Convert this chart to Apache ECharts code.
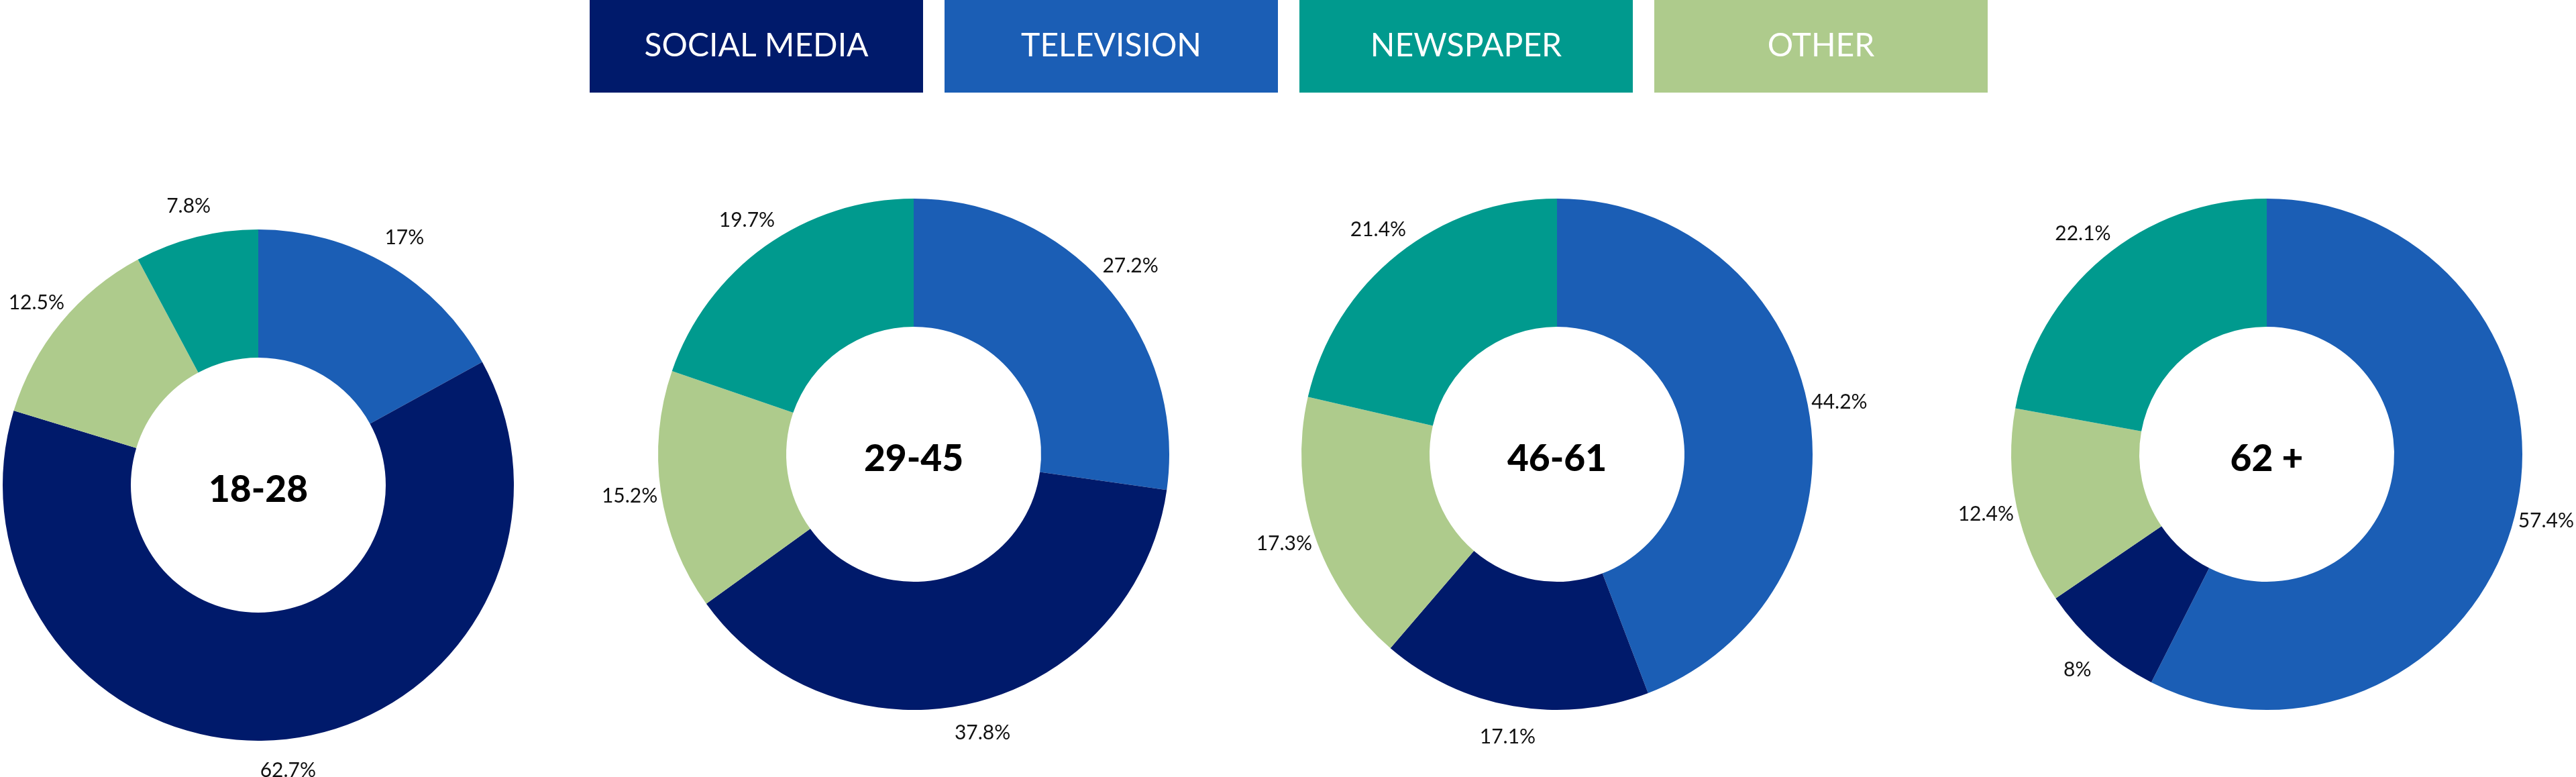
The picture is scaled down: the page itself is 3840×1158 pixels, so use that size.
<!DOCTYPE html>
<html>
<head>
<meta charset="UTF-8">
<title>Media by age group</title>
<script src="https://cdn.jsdelivr.net/npm/echarts@6/dist/echarts.min.js"></script>
<style>
    html, body { margin: 0; padding: 0; background: #fff; }
    #main { width: 3840px; height: 1158px; }
</style>
</head>
<body>
<div id="main"></div>
<script>
    // data (percent of each age group)
    var ageGroups = ['18-28', '29-45', '46-61', '62 +'];
    var sliceOrder = ['Television', 'Social Media', 'Other', 'Newspaper'];
    var legendOrder = ['Social Media', 'Television', 'Newspaper', 'Other'];
    var television = [17, 27.2, 44.2, 57.4];
    var socialMedia = [62.7, 37.8, 17.1, 8];
    var other = [12.5, 15.2, 17.3, 12.4];
    var newspaper = [7.8, 19.7, 21.4, 22.1];

    var colors = {
        'Social Media': '#001a6b',
        'Television': '#1b5eb5',
        'Newspaper': '#009a8e',
        'Other': '#aecb8c'
    };
    var values = {
        'Television': television,
        'Social Media': socialMedia,
        'Other': other,
        'Newspaper': newspaper
    };

    // donut centres in px
    var centers = [[385, 723], [1362, 677], [2321, 677], [3379, 677]];

    var myChart = echarts.init(document.getElementById('main'));

    var rich = {};
    legendOrder.forEach(function (name, i) {
        rich['s' + i] = {
            width: 497,
            height: 138,
            lineHeight: 138,
            align: 'center',
            verticalAlign: 'middle',
            backgroundColor: colors[name],
            color: '#fff',
            fontSize: 48,
            fontFamily: 'Lato'
        };
    });

    var series = [];
    var titles = [];
    ageGroups.forEach(function (group, g) {
        var data = sliceOrder.map(function (name) {
            return { name: name, value: values[name][g], itemStyle: { color: colors[name] } };
        });
        // the ring
        series.push({
            type: 'pie',
            name: group,
            center: centers[g],
            radius: [190, 381],
            startAngle: 90,
            clockwise: true,
            silent: true,
            label: { show: false },
            labelLine: { show: false },
            emphasis: { disabled: true },
            data: data
        });
        // invisible band just outside the ring, carries the % labels
        series.push({
            type: 'pie',
            name: group + ' labels',
            center: centers[g],
            radius: [381, 469],
            startAngle: 90,
            clockwise: true,
            silent: true,
            itemStyle: { color: 'transparent' },
            label: {
                show: true,
                position: 'inside',
                formatter: '{c}%',
                color: '#111',
                fontFamily: 'Lato',
                fontWeight: 'normal',
                fontSize: 30
            },
            labelLine: { show: false },
            emphasis: { disabled: true },
            data: data.map(function (d) { return { name: d.name, value: d.value }; })
        });
        titles.push({
            text: group,
            left: centers[g][0],
            top: centers[g][1] + 7,
            padding: 0,
            textAlign: 'center',
            textVerticalAlign: 'middle',
            textStyle: { fontFamily: 'Lato', fontWeight: 900, fontSize: 55, color: '#000' }
        });
    });

    var option = {
        backgroundColor: '#fff',
        animation: false,
        title: titles,
        legend: {
            data: legendOrder,
            left: 874,
            top: 0,
            padding: 0,
            icon: 'none',
            itemWidth: 0,
            itemHeight: 0,
            itemGap: 27,
            selectedMode: false,
            formatter: function (name) {
                return '{s' + legendOrder.indexOf(name) + '|' + name.toUpperCase() + '}';
            },
            textStyle: { rich: rich }
        },
        series: series
    };

    myChart.setOption(option);
</script>
</body>
</html>
